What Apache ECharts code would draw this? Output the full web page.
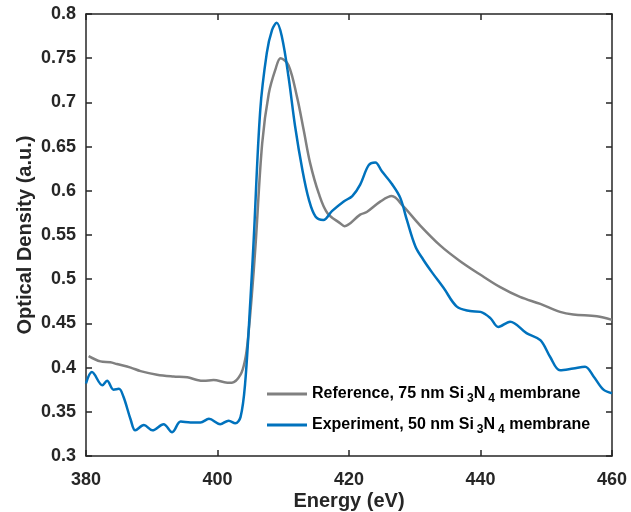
<!DOCTYPE html>
<html>
<head>
<meta charset="utf-8">
<script src="https://cdn.jsdelivr.net/npm/echarts@6/dist/echarts.min.js"></script>
<style>
  html, body { margin: 0; padding: 0; background: #fff; }
  #chart { width: 631px; height: 512px; }
</style>
</head>
<body>
<div id="chart"></div>
<script>
// values
const refEnergy = [380.4, 382.2, 383.7, 384.7, 386.8, 388.3, 390.8, 393.3, 395.4, 396.9, 397.9, 399.4,
  401.5, 402.2, 403.5, 404.2, 404.6, 405.2, 405.8, 406.8, 407.8, 408.8, 409.6, 410.8, 412.1, 413.1,
  414.1, 415.4, 416.7, 418.7, 419.3, 421.7, 422.7, 424.8, 426.5, 428.3, 430.8, 433.9, 436.8, 440.0,
  443.0, 446.0, 449.1, 452.1, 454.1, 457.7, 460.0];
const refOD = [0.413, 0.407, 0.406, 0.404, 0.400, 0.396, 0.392, 0.390, 0.389, 0.386, 0.385, 0.386,
  0.383, 0.383, 0.392, 0.409, 0.430, 0.480, 0.540, 0.654, 0.710, 0.737, 0.750, 0.742, 0.706, 0.669,
  0.631, 0.597, 0.575, 0.563, 0.560, 0.573, 0.576, 0.588, 0.594, 0.582, 0.561, 0.538, 0.521, 0.505,
  0.491, 0.480, 0.472, 0.463, 0.460, 0.458, 0.454];

const expEnergy = [380.0, 380.9, 382.5, 383.2, 384.2, 385.0, 385.7, 386.8, 387.5, 388.8, 390.1, 391.8,
  393.1, 394.4, 395.9, 397.4, 398.7, 400.4, 401.7, 402.7, 403.5, 404.2, 405.0, 405.5, 406.5, 407.5,
  408.3, 409.0, 409.8, 410.8, 411.8, 412.9, 413.9, 414.9, 416.1, 417.4, 419.2, 420.5, 421.7, 423.0,
  424.0, 425.0, 426.5, 427.8, 428.8, 430.1, 431.3, 432.6, 434.4, 436.4, 438.4, 440.0, 441.5, 442.7,
  444.5, 447.0, 449.1, 450.6, 452.1, 454.1, 455.9, 457.2, 458.7, 460.0];
const expOD = [0.382, 0.395, 0.380, 0.385, 0.375, 0.376, 0.367, 0.341, 0.329, 0.335, 0.329, 0.336,
  0.327, 0.339, 0.338, 0.338, 0.342, 0.336, 0.340, 0.337, 0.344, 0.382, 0.476, 0.544, 0.691, 0.756,
  0.782, 0.790, 0.774, 0.729, 0.673, 0.624, 0.590, 0.571, 0.567, 0.577, 0.588, 0.594, 0.607, 0.629,
  0.632, 0.622, 0.608, 0.592, 0.567, 0.537, 0.522, 0.508, 0.490, 0.469, 0.464, 0.463, 0.456, 0.446,
  0.452, 0.439, 0.431, 0.412, 0.397, 0.399, 0.401, 0.390, 0.375, 0.371];

const seriesNames = ['Reference', 'Experiment'];
const legendLabels = {
  Reference: ['Reference, 75 nm Si', '3', 'N', '4', ' membrane'],
  Experiment: ['Experiment, 50 nm Si', '3', 'N', '4', ' membrane']
};

const pairs = (xs, ys) => xs.map((x, i) => [x, ys[i]]);

const axisColor = '#262626';
const font = '"Liberation Sans", Arial, Helvetica, sans-serif';

const chart = echarts.init(document.getElementById('chart'));

// MATLAB-style box: ticks point inward on all four sides
const tick = () => ({ show: true, inside: true, length: 6, lineStyle: { color: axisColor, width: 1.5 } });
const line = () => ({ show: true, onZero: false, lineStyle: { color: axisColor, width: 1.5 } });

chart.setOption({
  backgroundColor: '#fff',
  animation: false,
  grid: { left: 86, right: 19, top: 14, bottom: 56, outerBoundsMode: 'none', containLabel: false },
  xAxis: [{
    type: 'value', min: 380, max: 460, interval: 20,
    name: 'Energy (eV)', nameLocation: 'middle', nameGap: 35, nameMoveOverlap: false,
    nameTextStyle: { color: axisColor, fontFamily: font, fontWeight: 'bold', fontSize: 20 },
    axisLine: line(), axisTick: tick(),
    axisLabel: { color: axisColor, fontFamily: font, fontWeight: 'bold', fontSize: 18, margin: 15 },
    splitLine: { show: false }
  }, {
    type: 'value', min: 380, max: 460, interval: 20, position: 'top',
    axisLine: line(), axisTick: tick(), axisLabel: { show: false }, splitLine: { show: false }
  }],
  yAxis: [{
    type: 'value', min: 0.3, max: 0.8, interval: 0.05,
    name: 'Optical Density (a.u.)', nameLocation: 'middle', nameGap: 51, nameMoveOverlap: false,
    nameTextStyle: { color: axisColor, fontFamily: font, fontWeight: 'bold', fontSize: 20 },
    axisLine: line(), axisTick: tick(),
    axisLabel: { color: axisColor, fontFamily: font, fontWeight: 'bold', fontSize: 18, margin: 10,
      formatter: v => String(+v.toFixed(2)) },
    splitLine: { show: false }
  }, {
    type: 'value', min: 0.3, max: 0.8, interval: 0.05, position: 'right',
    axisLine: line(), axisTick: tick(), axisLabel: { show: false }, splitLine: { show: false }
  }],
  legend: {
    orient: 'vertical',
    left: 262, top: 381,
    itemWidth: 40, itemHeight: 3, itemGap: 12,
    icon: 'rect',
    data: seriesNames,
    formatter: name => {
      const p = legendLabels[name];
      return `{a|${p[0]}}{s|${p[1]}}{a|${p[2]}}{s|${p[3]}}{a|${p[4]}}`;
    },
    textStyle: {
      color: '#000', fontFamily: font, fontWeight: 'bold', fontSize: 16,
      rich: {
        a: { fontFamily: font, fontWeight: 'bold', fontSize: 16, lineHeight: 22, verticalAlign: 'middle', color: '#000' },
        s: { fontFamily: font, fontWeight: 'bold', fontSize: 12, lineHeight: 8, verticalAlign: 'bottom', padding: [0, 0, 0, 3], color: '#000' }
      }
    }
  },
  series: [{
    name: 'Reference', type: 'line', symbol: 'none', smooth: 0.35,
    lineStyle: { color: '#808080', width: 2.5 }, itemStyle: { color: '#808080' },
    data: pairs(refEnergy, refOD)
  }, {
    name: 'Experiment', type: 'line', symbol: 'none', smooth: 0.35,
    lineStyle: { color: '#0072BD', width: 2.5 }, itemStyle: { color: '#0072BD' },
    data: pairs(expEnergy, expOD)
  }]
});
</script>
</body>
</html>
